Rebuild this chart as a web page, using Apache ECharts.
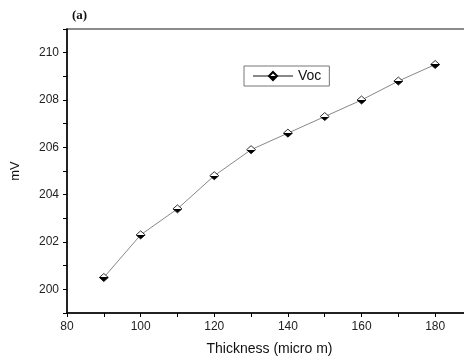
<!DOCTYPE html>
<html><head><meta charset="utf-8">
<script src="https://cdn.jsdelivr.net/npm/echarts@6/dist/echarts.min.js"></script>
<style>html,body{margin:0;padding:0;background:#fff}#c{width:464px;height:363px}</style>
</head><body><div id="c"></div>
<script>
const thickness = [90, 100, 110, 120, 130, 140, 150, 160, 170, 180];
const voc = [200.5, 202.3, 203.4, 204.8, 205.9, 206.6, 207.3, 208.0, 208.8, 209.5];
const seriesName = 'Voc';
const xName = 'Thickness (micro m)';
const yName = 'mV';
const panelTitle = '(a)';

const diamondFill = {type:'linear',x:0,y:0,x2:0,y2:1,colorStops:[
  {offset:0,color:'#fff'},{offset:0.5,color:'#fff'},{offset:0.5,color:'#000'},{offset:1,color:'#000'}]};

const chart = echarts.init(document.getElementById('c'));
chart.setOption({
  animation:false,
  backgroundColor:'#fff',
  title:{text:panelTitle,left:67,top:4,textStyle:{fontFamily:'Liberation Serif',fontWeight:'bold',fontSize:13,color:'#111'}},
  legend:{data:[seriesName],left:244,top:66,width:90,height:21,padding:[3,8,3,8],itemWidth:40,itemHeight:10,itemGap:4,
    borderColor:'#777',borderWidth:1,
    textStyle:{fontFamily:'Liberation Sans',fontSize:14,color:'#111'}},
  grid:{left:67,width:405,top:29,bottom:50,outerBoundsMode:'none',containLabel:false,
    show:true,borderColor:'#666',borderWidth:1.5,backgroundColor:'transparent'},
  xAxis:{type:'value',min:80,max:190,interval:10,name:xName,nameLocation:'middle',nameGap:29,
    nameTextStyle:{fontFamily:'Liberation Sans',fontSize:14,color:'#111'},
    axisLine:{lineStyle:{color:'#000',width:1.5}},
    axisTick:{length:4,lineStyle:{color:'#000'}},
    axisLabel:{fontFamily:'Liberation Sans',fontSize:12,color:'#222',margin:8,
      formatter:v=> (v%20===0 && v<190) ? String(v) : ''},
    splitLine:{show:false}},
  yAxis:{type:'value',min:199,max:211,interval:1,name:yName,nameLocation:'middle',nameGap:45,
    nameTextStyle:{fontFamily:'Liberation Sans',fontSize:13,color:'#111'},
    axisLine:{show:true,lineStyle:{color:'#000',width:1.5}},
    axisTick:{show:true,length:4,lineStyle:{color:'#000'}},
    axisLabel:{fontFamily:'Liberation Sans',fontSize:12,color:'#222',margin:8,
      formatter:v=> (v%2===0) ? String(v) : ''},
    splitLine:{show:false}},
  series:[{name:seriesName,type:'line',data:thickness.map((t,i)=>[t,voc[i]]),
    symbol:'diamond',symbolSize:[9,8],
    lineStyle:{color:'#888',width:1},
    itemStyle:{color:diamondFill,borderColor:'#000',borderWidth:0.8}}]
});
</script></body></html>
